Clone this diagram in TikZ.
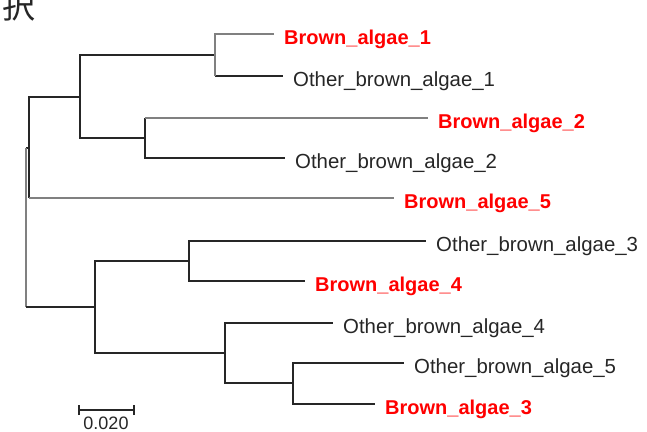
\documentclass[tikz,border=0pt]{standalone}
\usepackage{fontspec}
\setmainfont{Liberation Sans}
\newfontfamily\cjk{Noto Sans CJK JP}
\begin{document}
\begin{tikzpicture}[x=1pt,y=-1pt,
  br/.style={line width=1.7pt, draw=black!85},
  brg/.style={line width=1.6pt, draw=black!50},
  leaf/.style={anchor=west, inner xsep=10pt, inner ysep=0pt, text height=20.5pt, text depth=0pt, text=black!85, font=\fontsize{20.4}{22}\selectfont},
  redleaf/.style={leaf, text=red, font=\fontsize{20}{22}\selectfont\bfseries}]
\useasboundingbox (0,0) rectangle (647,431);
% kanji at top-left
\node[anchor=base west, inner sep=0pt, font=\cjk\fontsize{33}{33}\selectfont, text=black!85] (kanji) at (2,18) {択};
% internal nodes
\coordinate (root) at (26,228);
\coordinate (n1) at (29,148);
\coordinate (n2) at (80,97);
\coordinate (n3) at (215,55);
\coordinate (n4) at (145,138);
\coordinate (n5) at (95,307);
\coordinate (n6) at (189,261);
\coordinate (n7) at (225,353);
\coordinate (n8) at (293,383);
% leaves
\node[redleaf] (BA1) at (274,34) {Brown\_algae\_1};
\node[leaf] (OBA1) at (283,76) {Other\_brown\_algae\_1};
\node[redleaf] (BA2) at (428,118) {Brown\_algae\_2};
\node[leaf] (OBA2) at (285,158) {Other\_brown\_algae\_2};
\node[redleaf] (BA5) at (394,198) {Brown\_algae\_5};
\node[leaf] (OBA3) at (426,241) {Other\_brown\_algae\_3};
\node[redleaf] (BA4) at (305,281) {Brown\_algae\_4};
\node[leaf] (OBA4) at (333,323) {Other\_brown\_algae\_4};
\node[leaf] (OBA5) at (404,363) {Other\_brown\_algae\_5};
\node[redleaf] (BA3) at (375,404) {Brown\_algae\_3};
% branches
\draw[br] (root |- n1) -- (n1);
\draw[brg, line width=1.3pt] (root |- n1) -- (root |- n5);
\draw[br] (root |- n5) -- (n5);
\draw[br] (n1) |- (n2);
\draw[br] (n1) -- (n1 |- BA5.west);
\draw[brg] (n1 |- BA5.west) -- (BA5.west);
\draw[br] (n2) |- (n3);
\draw[br] (n2) |- (n4);
\draw[br] (n3 |- OBA1.west) -- (OBA1.west);
\draw[brg] (BA1.west) -| (n3 |- OBA1.west);
\draw[br] (n4 |- BA2.west) |- (OBA2.west);
\draw[brg] (n4 |- BA2.west) -- (BA2.west);
\draw[br] (n5) |- (n6);
\draw[br] (n5) |- (n7);
\draw[br] (n6) |- (OBA3.west);
\draw[br] (n6) |- (BA4.west);
\draw[br] (n7) |- (OBA4.west);
\draw[br] (n7) |- (n8);
\draw[br] (n8) |- (OBA5.west);
\draw[br] (n8) |- (BA3.west);
% scale bar
\coordinate (s1) at (79,410);
\coordinate (s2) at (134,410);
\draw[br, line width=1.5pt] (s1) -- (s2);
\draw[br, line width=1.3pt] ([yshift=-5pt]s1) -- ([yshift=5pt]s1);
\draw[br, line width=1.3pt] ([yshift=-5pt]s2) -- ([yshift=5pt]s2);
\node[anchor=north, inner sep=0pt, font=\fontsize{18}{20}\selectfont, text=black!85] (scale) at (106,417) {0.020};
\end{tikzpicture}
\end{document}
